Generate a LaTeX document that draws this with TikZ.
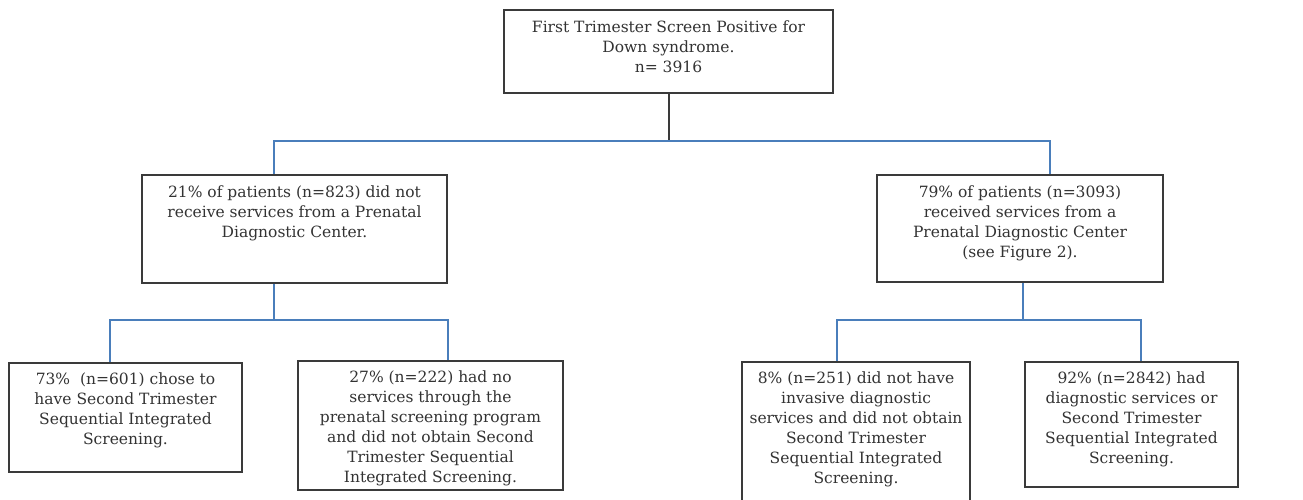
\documentclass[tikz,border=0pt]{standalone}
\usepackage{fontspec}
\setmainfont{DejaVu Serif}
\definecolor{txt}{HTML}{333333}
\definecolor{boxc}{HTML}{3A3A3A}
\definecolor{blueln}{HTML}{4A7EBB}
\begin{document}
\begin{tikzpicture}[x=1pt,y=-1pt,
  box/.style={draw=boxc, line width=2.2pt, fill=white, inner sep=0pt},
  txtlab/.style={anchor=north, align=center, text=txt, font=\fontsize{15.5}{20}\selectfont, inner sep=0pt},
  blue/.style={draw=blueln, line width=2pt},
  dark/.style={draw=boxc, line width=2pt}]
\clip (0,0) rectangle (1303,499);
\useasboundingbox (0,0) rectangle (1303,499);
\node[box, minimum width=329pt, minimum height=83pt] (top) at (668.5,51.5) {};
\node[txtlab] (ttop) at ([yshift=-12pt]top.north) {First Trimester Screen Positive for\\Down syndrome.\\n= 3916};
\node[box, minimum width=305pt, minimum height=108pt] (l1) at (294.5,229) {};
\node[txtlab] (tl1) at ([yshift=-12pt]l1.north) {21\% of patients (n=823) did not\\receive services from a Prenatal\\Diagnostic Center.};
\node[box, minimum width=286pt, minimum height=107pt] (r1) at (1020,228.5) {};
\node[txtlab] (tr1) at ([yshift=-12pt]r1.north) {79\% of patients (n=3093)\\received services from a\\Prenatal Diagnostic Center\\(see Figure 2).};
\node[box, minimum width=233pt, minimum height=109pt] (ll) at (125.5,417.5) {};
\node[txtlab] (tll) at ([yshift=-11pt]ll.north) {73\%\ \ (n=601) chose to\\have Second Trimester\\Sequential Integrated\\Screening.};
\node[box, minimum width=265pt, minimum height=129pt] (lr) at (430.5,425.5) {};
\node[txtlab] (tlr) at ([yshift=-11pt]lr.north) {27\% (n=222) had no\\services through the\\prenatal screening program\\and did not obtain Second\\Trimester Sequential\\Integrated Screening.};
\node[box, minimum width=228pt, minimum height=150pt] (rl) at (856,437) {};
\node[txtlab] (trl) at ([yshift=-11pt]rl.north) {8\% (n=251) did not have\\invasive diagnostic\\services and did not obtain\\Second Trimester\\Sequential Integrated\\Screening.};
\node[box, minimum width=213pt, minimum height=125pt] (rr) at (1131.5,424.5) {};
\node[txtlab] (trr) at ([yshift=-11pt]rr.north) {92\% (n=2842) had\\diagnostic services or\\Second Trimester\\Sequential Integrated\\Screening.};
\coordinate (j1) at (668.5,141);
\coordinate (j2) at (274,320);
\coordinate (j3) at (1023,320);
\draw[dark] (top.south) -- (j1);
\draw[blue] (l1.north -| 274,0) -- (274,141) -- (1050,141) -- (r1.north -| 1050,0);
\draw[blue] (l1.south -| j2) -- (j2);
\draw[blue] (ll.north -| 110,0) -- (110,320) -- (448,320) -- (lr.north -| 448,0);
\draw[blue] (r1.south -| j3) -- (j3);
\draw[blue] (rl.north -| 837,0) -- (837,320) -- (1141,320) -- (rr.north -| 1141,0);
\end{tikzpicture}
\end{document}
